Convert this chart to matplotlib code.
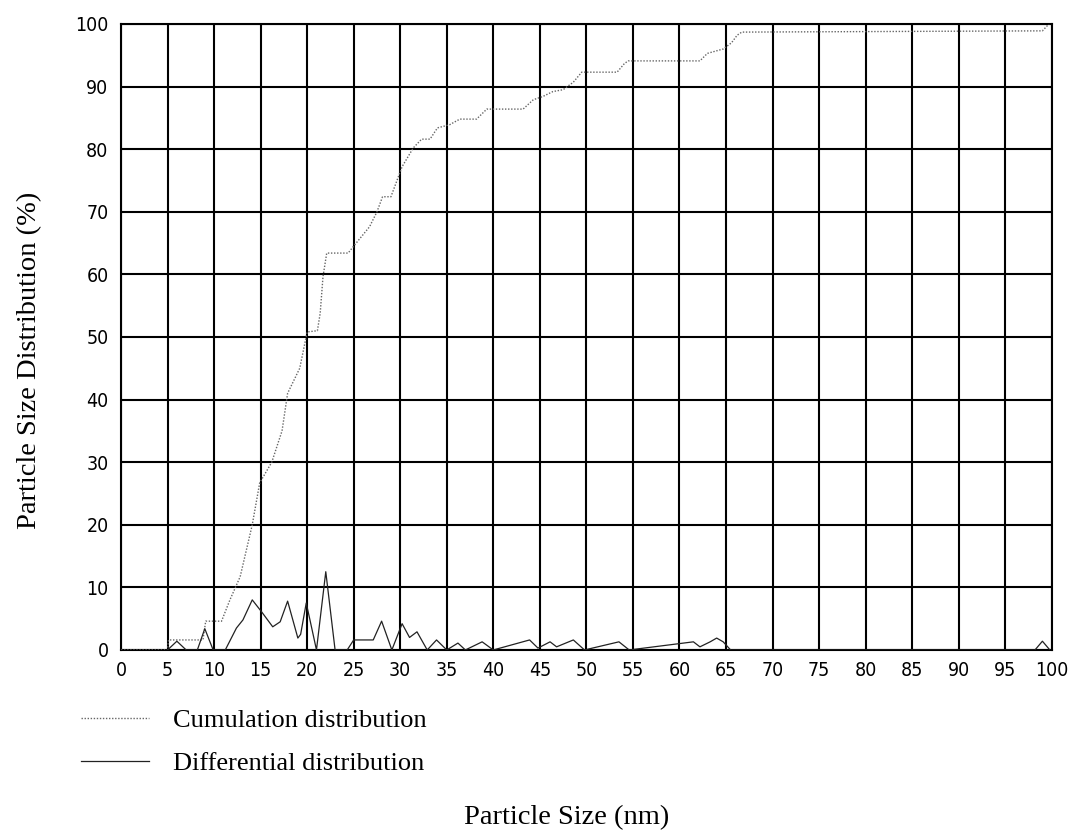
import matplotlib
matplotlib.use("Agg")
import matplotlib.pyplot as plt

# ---- data ----
cum_x = [0, 5, 5.1, 8.8, 9.1, 10.8, 11.7, 12.8, 14.1, 14.9, 16.2, 17.3, 17.9, 19.2,
         20.0, 21.1, 21.4, 21.7, 22.1, 24.4, 25.1, 26.7, 27.5, 28.1, 29.0, 29.4,
         30.2, 31.4, 32.3, 33.2, 34.0, 35.3, 36.4, 38.2, 39.3, 43.2, 44.3, 45.3,
         46.4, 47.5, 48.6, 49.5, 53.3, 54.1, 54.5, 62.2, 63.0, 64.7, 65.6, 66.2,
         66.7, 99.0, 99.7]
cum_y = [0, 0, 1.6, 1.6, 4.6, 4.6, 8.0, 11.7, 20.0, 26.7, 30.0, 35.0, 41.0, 45.0,
         50.8, 51.0, 53.8, 59.6, 63.4, 63.4, 64.7, 67.6, 70.0, 72.4, 72.4, 74.0,
         77.2, 80.2, 81.6, 81.6, 83.4, 83.9, 84.8, 84.8, 86.4, 86.4, 87.9, 88.4,
         89.2, 89.5, 90.7, 92.3, 92.3, 93.7, 94.1, 94.1, 95.3, 96.0, 97.0, 98.2,
         98.7, 98.9, 100]

diff_x = [5, 6.0, 7.0, 8.2, 9.0, 9.9, 11.2, 12.4, 13.1, 14.1, 15.1, 16.3, 17.1,
          17.9, 19.0, 19.3, 19.9, 20.3, 21.0, 22.0, 23.0, 24.3, 25.0, 27.1, 28.0,
          29.1, 30.2, 31.0, 31.8, 32.9, 33.9, 35.0, 36.2, 37.0, 38.8, 40.0, 43.9,
          44.8, 46.1, 46.8, 48.6, 49.8, 53.5, 54.6, 61.5, 62.2, 63.3, 64.0, 64.7,
          65.5, 98.2, 99.0, 99.8]
diff_y = [0, 1.4, 0, 0, 3.4, 0, 0, 3.5, 4.8, 8.0, 6.1, 3.7, 4.5,
          7.8, 1.9, 2.5, 7.5, 4.8, 0, 12.5, 0, 0, 1.6, 1.6, 4.6,
          0, 4.2, 2.0, 2.9, 0, 1.6, 0, 1.1, 0, 1.3, 0, 1.6,
          0.3, 1.3, 0.5, 1.6, 0, 1.3, 0, 1.3, 0.5, 1.3, 1.9, 1.3,
          0, 0, 1.4, 0]

x_ticks = list(range(0, 101, 5))
y_ticks = list(range(0, 101, 10))

labels = ["Cumulation distribution", "Differential distribution"]
xlabel = "Particle Size (nm)"
ylabel = "Particle Size Distribution (%)"

# ---- figure ----
fig = plt.figure(figsize=(10.71, 8.35), dpi=100)
ax = fig.add_axes([0.113, 0.2216, 0.869, 0.7497])

ax.plot(cum_x, cum_y, color="#666666", lw=1.0, ls=(0, (1, 1.2)), label=labels[0], zorder=3)
ax.plot(diff_x, diff_y, color="#222222", lw=0.9, ls="-", label=labels[1], zorder=3)

ax.set_xlim(0, 100)
ax.set_ylim(0, 100)
ax.set_xticks(x_ticks)
ax.set_yticks(y_ticks)
ax.grid(True, color="black", lw=1.5)
ax.set_axisbelow(True)
for s in ax.spines.values():
    s.set_linewidth(1.5)
ax.tick_params(axis="y", length=0, pad=9)
ax.tick_params(axis="x", length=0, pad=8)
for t in ax.get_xticklabels() + ax.get_yticklabels():
    t.set_family(["DejaVu Sans"])
    t.set_stretch("condensed")
    t.set_fontsize(14)

serif = ["Liberation Serif", "DejaVu Serif"]
fig.text(0.028, 0.569, ylabel, rotation=90, ha="center", va="center",
         family=serif, fontsize=20.5)
fig.text(0.529, 0.006, xlabel, ha="center", va="bottom", family=serif, fontsize=20.5)

leg = ax.legend(loc="upper left", bbox_to_anchor=(0.063, 0.167),
                bbox_transform=fig.transFigure, frameon=False,
                prop={"family": serif, "size": 19}, handlelength=2.6,
                handletextpad=0.9, labelspacing=0.75, borderpad=0)

fig.savefig("out.png", dpi=100)
